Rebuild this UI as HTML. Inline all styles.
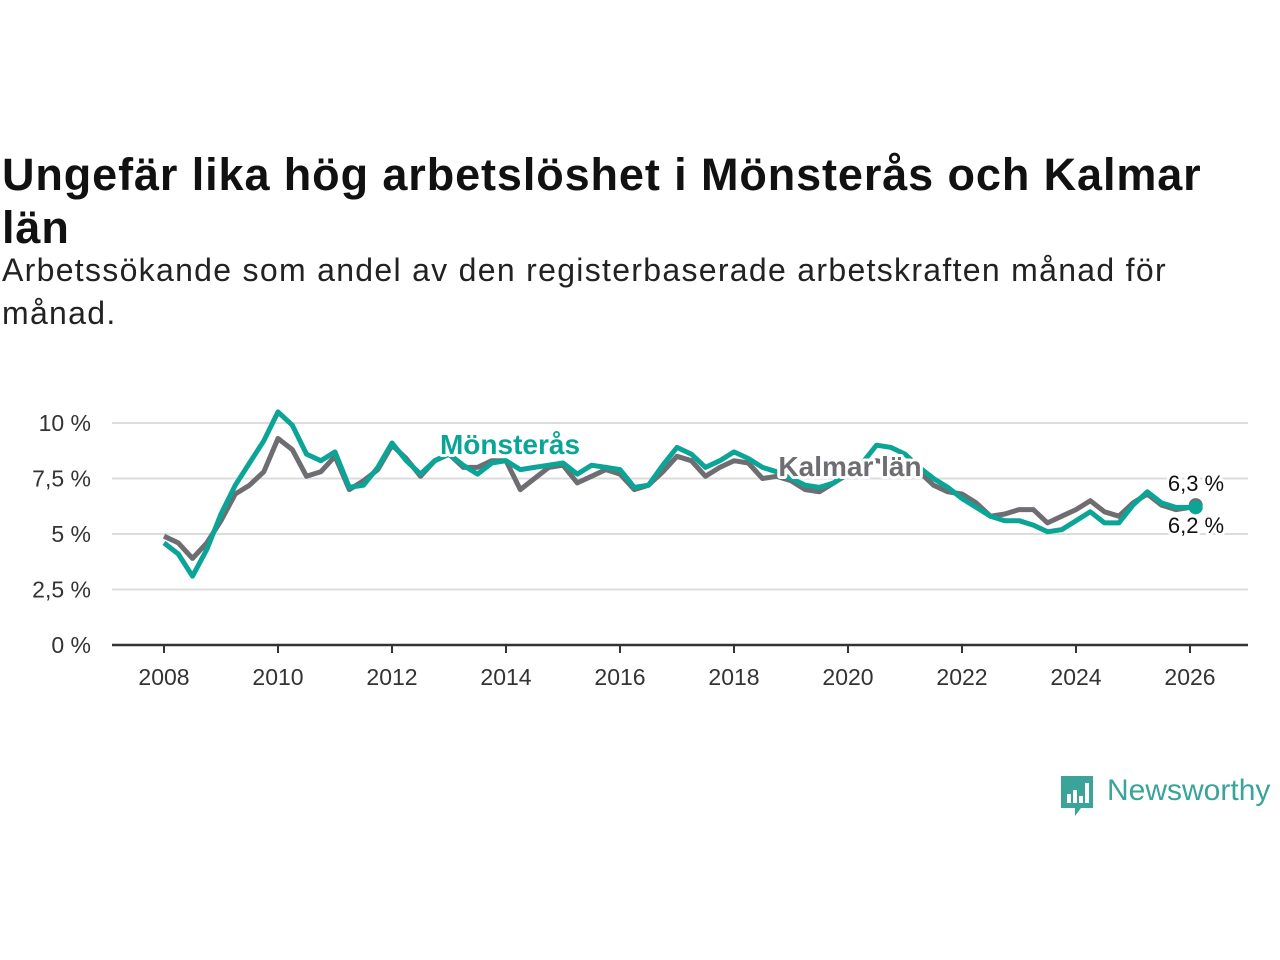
<!DOCTYPE html>
<html><head><meta charset="utf-8">
<style>
body{margin:0;background:#fff;width:1280px;height:960px;overflow:hidden;font-family:"Liberation Sans",sans-serif;}
h1{position:absolute;left:2px;top:148px;margin:0;font-size:45px;line-height:53px;font-weight:bold;color:#111;width:1220px;letter-spacing:0.9px;}
p.sub{position:absolute;left:2px;top:249px;margin:0;font-size:32px;line-height:43px;color:#222;width:1190px;letter-spacing:1.3px;}
svg{position:absolute;left:0;top:0;}
</style></head><body>
<h1>Ungefär lika hög arbetslöshet i Mönsterås och Kalmar län</h1>
<p class="sub">Arbetssökande som andel av den registerbaserade arbetskraften månad för månad.</p>
<svg id="chart" width="1280" height="960"></svg>
<script>
const years=[];for(let i=0;i<=72;i++)years.push(2008+i*0.25);years.push(2026.1);
const monsteras=[4.6,4.1,3.1,4.3,5.9,7.2,8.2,9.2,10.5,9.9,8.6,8.3,8.7,7.1,7.2,8.0,9.1,8.3,7.7,8.3,8.6,8.1,7.7,8.2,8.3,7.9,8.0,8.1,8.2,7.7,8.1,8.0,7.9,7.1,7.2,8.1,8.9,8.6,8.0,8.3,8.7,8.4,8.0,7.8,7.5,7.2,7.1,7.3,7.8,8.2,9.0,8.9,8.6,8.0,7.5,7.1,6.6,6.2,5.8,5.6,5.6,5.4,5.1,5.2,5.6,6.0,5.5,5.5,6.3,6.9,6.4,6.2,6.2,6.2];
const kalmar=[4.9,4.6,3.9,4.6,5.6,6.8,7.2,7.8,9.3,8.8,7.6,7.8,8.5,7.0,7.4,7.9,9.0,8.4,7.6,8.3,8.6,8.0,8.0,8.3,8.3,7.0,7.5,8.0,8.1,7.3,7.6,7.9,7.7,7.0,7.2,7.8,8.5,8.3,7.6,8.0,8.3,8.2,7.5,7.6,7.4,7.0,6.9,7.3,7.7,8.1,8.3,8.2,8.0,7.8,7.2,6.9,6.8,6.4,5.8,5.9,6.1,6.1,5.5,5.8,6.1,6.5,6.0,5.8,6.4,6.8,6.3,6.1,6.2,6.3];
const yTicks=[0,2.5,5,7.5,10];
const yTickLabels=["0 %","2,5 %","5 %","7,5 %","10 %"];
const xTicks=[2008,2010,2012,2014,2016,2018,2020,2022,2024,2026];
const NS="http://www.w3.org/2000/svg";
const svg=document.getElementById('chart');
const x=v=>164+(v-2008)*57;
const y=v=>645-v*22.2;
function mk(t,a){const e=document.createElementNS(NS,t);for(const k in a)e.setAttribute(k,a[k]);svg.appendChild(e);return e;}
yTicks.forEach((t,i)=>{
  if(t>0){const g=mk('line',{x1:112,x2:1248,y1:y(t),y2:y(t),stroke:'#dcdcdc','stroke-width':2});
  
  }
  const l=mk('text',{x:91,y:y(t)+8,'text-anchor':'end','font-size':23,fill:'#333'});l.textContent=yTickLabels[i];
  
  
});
const ax=mk('line',{x1:112,x2:1248,y1:645,y2:645,stroke:'#333','stroke-width':2.5});


xTicks.forEach(t=>{
  const tk=mk('line',{x1:x(t),x2:x(t),y1:645,y2:653,stroke:'#333','stroke-width':2});
  
  
  const l=mk('text',{x:x(t),y:685,'text-anchor':'middle','font-size':23,fill:'#333'});l.textContent=t;
  
  
});
function path(vals){return vals.map((v,i)=>(i?'L':'M')+x(years[i]).toFixed(1)+','+y(v).toFixed(1)).join('');}
const pk=mk('path',{d:path(kalmar),fill:'none',stroke:'#6e6d72','stroke-width':5,'stroke-linejoin':'round'});


const pm=mk('path',{d:path(monsteras),fill:'none',stroke:'#0aa597','stroke-width':5,'stroke-linejoin':'round'});


const dk=mk('circle',{cx:x(years[years.length-1]),cy:y(kalmar[kalmar.length-1]),r:7,fill:'#6e6d72'});


const dm=mk('circle',{cx:x(years[years.length-1]),cy:y(monsteras[monsteras.length-1]),r:7,fill:'#0aa597'});


function lab(txt,cx,cy,col,size,bold,name){
  const a={x:cx,y:cy,'text-anchor':'middle','font-size':size,fill:col,stroke:'#fff','stroke-width':6,'paint-order':'stroke','stroke-linejoin':'round'};
  if(bold)a['font-weight']='bold';
  const t=mk('text',a);t.textContent=txt;
  
  
}
lab('Mönsterås',510,454,'#0aa597',28,true,'monsteras-label');
lab('Kalmar län',850,476,'#6e6d72',28,true,'kalmar-label');
lab('6,3 %',1196,491,'#111',22,false,'kalmar-end-value');
lab('6,2 %',1196,533,'#111',22,false,'monsteras-end-value');
</script>
<div style="position:absolute;left:1059px;top:774px;">
<svg width="36" height="44" viewBox="0 0 36 44" style="position:static"><path d="M2 2h32v32H22l-6 8v-8H2z" fill="#3aa39a"/><rect x="8" y="20" width="4" height="9" fill="#fff"/><rect x="14" y="16" width="4" height="13" fill="#fff"/><rect x="20" y="22" width="4" height="7" fill="#fff"/><rect x="26" y="9" width="4" height="20" fill="#fff"/></svg>
<span style="position:absolute;left:48px;top:0px;font-size:30px;color:#3aa39a;white-space:nowrap;">Newsworthy</span>
</div>
</body></html>
